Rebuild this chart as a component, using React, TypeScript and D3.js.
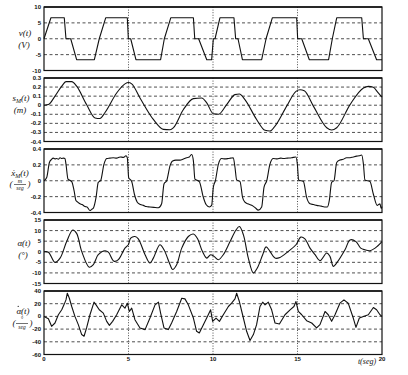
import React from "react";
import * as d3 from "d3";

// ---- data (t in seg) ----
const xTicks = [0, 5, 10, 15, 20];

const vT = [0, 0.41, 1.2, 1.3, 1.58, 1.93, 2.98, 3.27, 3.65, 4.93, 4.99, 5.13, 5.44, 6.9, 7.12, 7.5, 8.84, 8.92, 9.15, 9.63, 9.92, 10.02, 10.12, 10.41, 11.24, 11.34, 11.48, 11.74, 12.88, 13.14, 13.51, 14.95, 15.01, 15.25, 15.7, 16.84, 17.06, 17.32, 18.8, 18.9, 19.19, 19.68, 20];
const vV = [0, 6.6, 6.6, 0, 0, -6.6, -6.6, 0, 6.6, 6.6, 0, 0, -6.6, -6.6, 0, 6.6, 6.6, 0, 0, -6.6, -6.6, 0, 0, 6.6, 6.6, 0, 0, -6.6, -6.6, 0, 6.6, 6.6, 0, 0, -6.6, -6.6, 0, 6.6, 6.6, 0, 0, -6.6, -6.6];

const sT = [0, 0.26, 0.65, 1.05, 1.3, 1.64, 1.93, 2.52, 3.02, 3.31, 3.61, 4.3, 4.79, 4.99, 5.19, 5.68, 6.47, 7.06, 7.46, 7.65, 8.24, 8.84, 9.33, 9.63, 10.02, 10.32, 10.81, 11.3, 11.56, 11.89, 12.58, 13.08, 13.37, 13.67, 14.36, 14.91, 15.15, 15.4, 15.94, 16.73, 17.02, 17.32, 18.11, 18.9, 19.19, 19.49, 19.78, 20];
const sV = [0, 0.007, 0.1, 0.21, 0.26, 0.26, 0.21, 0.007, -0.14, -0.146, -0.08, 0.135, 0.235, 0.25, 0.235, 0.08, -0.157, -0.266, -0.27, -0.25, -0.05, 0.073, 0.08, 0.026, -0.095, -0.1, 0.007, 0.117, 0.124, 0.062, -0.157, -0.277, -0.285, -0.23, -0.01, 0.153, 0.17, 0.16, -0.01, -0.248, -0.274, -0.248, 0.007, 0.19, 0.208, 0.197, 0.135, 0.088];

const xdT = [0, 0.16, 0.32, 0.45, 0.55, 0.65, 0.75, 0.85, 0.95, 1.05, 1.15, 1.24, 1.3, 1.42, 1.64, 1.78, 1.89, 2.0, 2.13, 2.25, 2.43, 2.55, 2.72, 2.82, 2.92, 3.08, 3.21, 3.35, 3.55, 3.71, 3.9, 4.1, 4.3, 4.5, 4.7, 4.85, 4.93, 5.01, 5.19, 5.35, 5.52, 5.7, 5.88, 6.05, 6.27, 6.5, 6.77, 6.96, 7.1, 7.26, 7.46, 7.61, 7.8, 8.05, 8.25, 8.44, 8.6, 8.74, 8.84, 8.93, 9.19, 9.43, 9.59, 9.78, 9.92, 10.02, 10.14, 10.32, 10.51, 10.7, 10.91, 11.05, 11.2, 11.3, 11.4, 11.6, 11.75, 11.89, 12.05, 12.29, 12.5, 12.68, 12.88, 13.02, 13.18, 13.37, 13.57, 13.8, 14.0, 14.16, 14.4, 14.65, 14.91, 14.99, 15.07, 15.35, 15.54, 15.74, 15.95, 16.13, 16.4, 16.6, 16.77, 16.88, 17.02, 17.16, 17.32, 17.51, 17.7, 17.9, 18.11, 18.3, 18.5, 18.65, 18.8, 18.9, 18.99, 19.29, 19.49, 19.72, 19.8, 19.88, 19.95, 20];
const xdV = [0, 0.04, 0.23, 0.27, 0.285, 0.275, 0.28, 0.27, 0.29, 0.28, 0.285, 0.28, 0.21, 0.02, -0.01, -0.125, -0.25, -0.27, -0.29, -0.3, -0.325, -0.33, -0.375, -0.36, -0.345, -0.21, -0.02, 0, 0.21, 0.28, 0.285, 0.29, 0.285, 0.3, 0.295, 0.315, 0.29, 0.04, -0.01, -0.17, -0.27, -0.3, -0.31, -0.325, -0.33, -0.335, -0.34, -0.29, -0.04, 0, 0.19, 0.25, 0.26, 0.26, 0.275, 0.29, 0.3, 0.33, 0.25, 0.02, -0.01, -0.21, -0.3, -0.33, -0.31, -0.08, 0, 0.21, 0.28, 0.275, 0.28, 0.285, 0.29, 0.17, 0.01, -0.01, -0.21, -0.27, -0.29, -0.31, -0.34, -0.37, -0.33, -0.08, 0, 0.21, 0.28, 0.275, 0.285, 0.28, 0.285, 0.29, 0.3, 0.21, 0.01, -0.01, -0.21, -0.29, -0.3, -0.31, -0.32, -0.33, -0.33, -0.25, -0.02, 0, 0.23, 0.26, 0.27, 0.29, 0.29, 0.3, 0.31, 0.315, 0.325, 0.21, 0.01, -0.01, -0.17, -0.31, -0.3, -0.29, -0.35, -0.325];

const aT = [0, 0.26, 0.65, 0.95, 1.34, 1.7, 1.93, 2.23, 2.68, 2.92, 3.21, 3.61, 3.81, 4.14, 4.4, 4.79, 4.99, 5.13, 5.38, 5.58, 5.98, 6.27, 6.47, 6.86, 7.1, 7.46, 7.61, 7.85, 8.15, 8.54, 8.84, 9.07, 9.37, 9.63, 9.86, 10.06, 10.32, 10.61, 11.01, 11.36, 11.56, 11.8, 12.09, 12.39, 12.62, 12.94, 13.14, 13.37, 13.67, 13.96, 14.46, 14.91, 15.19, 15.44, 15.74, 16.04, 16.33, 16.73, 16.92, 17.12, 17.32, 17.81, 18.11, 18.46, 18.74, 18.99, 19.29, 19.59, 20];
const aV = [0, -0.2, -5, -3, 4.8, 10.3, 8.7, 0.2, -7.3, -6.1, -1.4, 0.5, -0.2, -4.5, -3.75, 1.7, 3.3, 6.4, 7.2, 6.1, -1.4, -5.3, -3, 3.3, 0.9, -6.1, -8.4, -6.1, 1.7, 7.2, 8.4, 6.4, 0.2, -3, -1.4, -2.2, -3.75, -1.4, 4.8, 10.3, 11.9, 8, -3, -10, -7.7, -1.4, 2.3, 0.2, -3, -2.7, 0.2, 3.3, 6.9, 6.1, 1.7, -1.4, -4.2, -0.6, -2.2, -6.9, -5.3, 0.9, 5.6, 4.8, 1.7, 0.9, 0.5, 1.7, 4.8];

const adT = [0, 0.26, 0.45, 0.65, 0.85, 1.05, 1.18, 1.3, 1.38, 1.5, 1.64, 1.83, 2.03, 2.23, 2.37, 2.52, 2.72, 2.96, 3.08, 3.27, 3.51, 3.71, 3.87, 4.06, 4.3, 4.6, 4.79, 4.93, 5.05, 5.19, 5.38, 5.68, 5.98, 6.27, 6.57, 6.77, 6.9, 7.1, 7.36, 7.55, 7.85, 8.15, 8.34, 8.54, 8.84, 9.03, 9.19, 9.43, 9.72, 9.86, 9.98, 10.18, 10.38, 10.61, 10.91, 11.1, 11.3, 11.4, 11.56, 11.75, 11.99, 12.19, 12.39, 12.58, 12.78, 12.94, 13.08, 13.27, 13.47, 13.67, 13.93, 14.26, 14.56, 14.79, 14.91, 15.05, 15.25, 15.54, 15.84, 16.13, 16.33, 16.63, 16.82, 17.02, 17.22, 17.51, 17.75, 18.0, 18.3, 18.46, 18.66, 18.9, 19.19, 19.49, 19.68, 19.88, 20];
const adV = [0, -3.6, -15.6, -10.4, 2.6, 10.4, 18.2, 26, 36.5, 28.6, 15.6, 0, -13, -28.6, -31.3, -18.2, 2.6, 22.4, 18.2, 10.4, 5.2, -7.8, -14.1, -7.8, 2.6, 18.2, 13, 20.8, 7.8, 13, -5.2, -18.2, -20.8, -2.6, 18.2, 22.4, 5.2, -18.2, -20.8, -10.4, 7.8, 28.6, 27.6, 18.2, -2.6, -23.4, -26, -13, 2.6, 10.4, -7.8, -2.6, -7.8, 2.6, 15.6, 20.8, 27.6, 36.5, 23.4, 2.6, -23.4, -38, -28.6, -13, 15.6, 22.4, 18.2, 22.4, 10.4, -10.4, -12, 2.6, 10.4, 15.6, 23.4, 7.8, 2.6, -6.8, -10.4, -18.2, -13, 7.8, 2.6, -7.8, 2.6, 20.8, 26, 20.8, -2.6, -17.2, -2.6, 0, 2.6, 14, 10.4, 2.6, 0];

const vTicks = [10, 5, 0, -5, -10];
const sTicks = [0.3, 0.2, 0.1, 0, -0.1, -0.2, -0.3, -0.4];
const xdTicks = [0.4, 0.2, 0, -0.2, -0.4];
const aTicks = [15, 10, 5, 0, -5, -10, -15];
const adTicks = [40, 20, 0, -20, -40, -60];

const X0 = 44;
const X1 = 382;
const TOP0 = 7;
const STEP = 71;
const PH = 63.5;

const x = d3.scaleLinear().domain([0, 20]).range([X0, X1]);

type Panel = {
  t: number[];
  v: number[];
  ticks: number[];
  curve: d3.CurveFactory;
};

const panels: Panel[] = [
  { t: vT, v: vV, ticks: vTicks, curve: d3.curveLinear },
  { t: sT, v: sV, ticks: sTicks, curve: d3.curveMonotoneX },
  { t: xdT, v: xdV, ticks: xdTicks, curve: d3.curveMonotoneX },
  { t: aT, v: aV, ticks: aTicks, curve: d3.curveCatmullRom.alpha(0.5) },
  { t: adT, v: adV, ticks: adTicks, curve: d3.curveLinear },
];

const fmt = (d: number) => String(Math.round(d * 100) / 100);

const serif = "'Liberation Serif', 'DejaVu Serif', serif";
const sans = "'Liberation Sans', Arial, sans-serif";

function PanelView({ p, i }: { p: Panel; i: number }) {
  const top = TOP0 + i * STEP;
  const bottom = top + PH;
  const ext = d3.extent(p.ticks) as [number, number];
  const y = d3.scaleLinear().domain(ext).range([bottom, top]);
  const line = d3
    .line<number>()
    .x((_, k) => x(p.t[k]))
    .y((d) => y(d))
    .curve(p.curve);
  const inner = p.ticks.filter((d) => d !== ext[0] && d !== ext[1]);
  return (
    <g>
      {inner.map((d) => (
        <line key={"h" + d} x1={X0} x2={X1} y1={y(d)} y2={y(d)} stroke="#222" strokeWidth={0.8} strokeDasharray="3,2.5" />
      ))}
      {[5, 10, 15].map((d) => (
        <line key={"v" + d} x1={x(d)} x2={x(d)} y1={top} y2={bottom} stroke="#222" strokeWidth={0.8} strokeDasharray="1,1.6" />
      ))}
      <path d={line(p.v) || ""} fill="none" stroke="#111" strokeWidth={1.1} strokeLinejoin="round" />
      <rect x={X0} y={top} width={X1 - X0} height={PH} fill="none" stroke="#111" strokeWidth={1.2} />
      <line x1={X0} x2={X1} y1={top} y2={top} stroke="#111" strokeWidth={1.6} />
      {p.ticks.map((d) => (
        <text key={"t" + d} x={41} y={y(d) + 2} fontSize={6} fontWeight="bold" fontFamily={sans} textAnchor="end" fill="#111">
          {fmt(d)}
        </text>
      ))}
    </g>
  );
}

export default function App() {
  const bottom = TOP0 + 4 * STEP + PH;
  return (
    <svg width={408} height={375} style={{ position: "absolute", left: 0, top: 0, background: "#fff" }}>
      <rect width={408} height={375} fill="#fff" />
      {panels.map((p, i) => (
        <PanelView key={i} p={p} i={i} />
      ))}
      {xTicks.map((d) => (
        <text key={d} x={x(d)} y={bottom + 6} fontSize={6} fontWeight="bold" fontFamily={sans} textAnchor="middle" fill="#111">
          {d}
        </text>
      ))}
      <text x={367} y={364} fontSize={8} fontStyle="italic" fontFamily={serif} textAnchor="middle" fill="#111">t(seg)</text>

      <g fontFamily={serif} fontStyle="italic" fill="#111" textAnchor="middle">
        <text x={25} y={36} fontSize={9}>v(t)</text>
        <text x={24} y={48} fontSize={9}>(V)</text>

        <text x={21} y={101} fontSize={9}>s<tspan fontSize={6} dy={2}>M</tspan><tspan dy={-2}>(t)</tspan></text>
        <text x={20} y={113} fontSize={9}>(m)</text>

        <text x={20} y={176} fontSize={9}>ẋ<tspan fontSize={6} dy={2}>M</tspan><tspan dy={-2}>(t)</tspan></text>
        <text x={11} y={187} fontSize={9}>(</text>
        <text x={20} y={182.5} fontSize={6}>m</text>
        <line x1={14} x2={26} y1={184.5} y2={184.5} stroke="#111" strokeWidth={0.6} />
        <text x={20} y={189.5} fontSize={5.5}>seg</text>
        <text x={29} y={187} fontSize={9}>)</text>

        <text x={24} y={246} fontSize={9}>α(t)</text>
        <text x={23} y={258} fontSize={9}>(°)</text>

        <text x={23} y={314} fontSize={9}>α(t)</text>
        <circle cx={18.2} cy={306.3} r={0.65} fill="#111" />
        <text x={14} y={326} fontSize={9}>(</text>
        <text x={22} y={321} fontSize={6}>°</text>
        <line x1={16} x2={28} y1={323.5} y2={323.5} stroke="#111" strokeWidth={0.6} />
        <text x={22} y={328.5} fontSize={5.5}>seg</text>
        <text x={31} y={326} fontSize={9}>)</text>
      </g>
    </svg>
  );
}
